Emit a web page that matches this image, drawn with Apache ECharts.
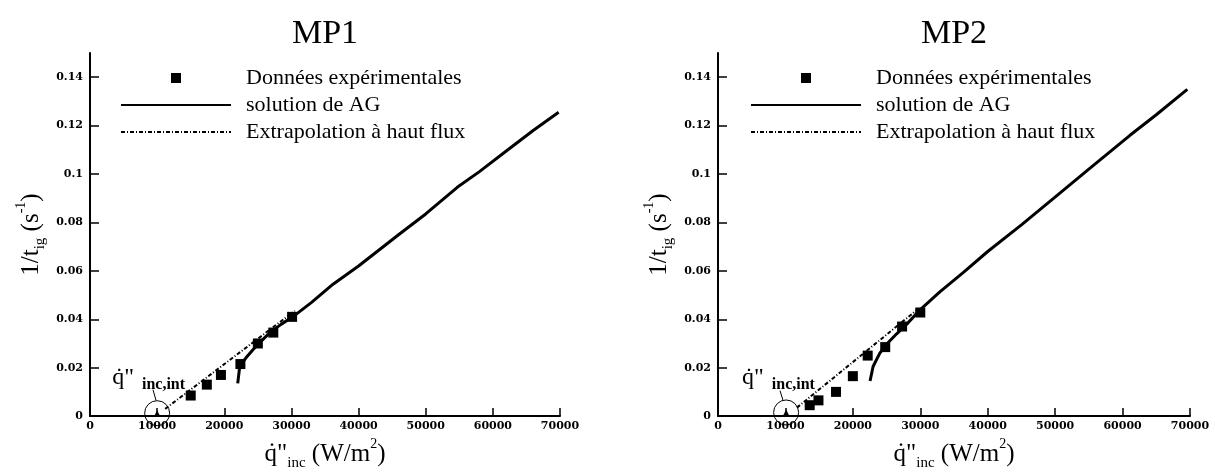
<!DOCTYPE html>
<html>
<head>
<meta charset="utf-8">
<script src="https://cdn.jsdelivr.net/npm/echarts@6/dist/echarts.min.js"></script>
<style>
html,body{margin:0;padding:0;background:#fff;}
#chart{width:1215px;height:476px;}
</style>
</head>
<body>
<div id="chart"></div>
<script>
// ---- data ----
const titles = ['MP1', 'MP2'];
const legendNames = ['Données expérimentales', 'solution de AG', 'Extrapolation à haut flux'];
const xTicks = [0, 10000, 20000, 30000, 40000, 50000, 60000, 70000];
const yTicks = [0, 0.02, 0.04, 0.06, 0.08, 0.1, 0.12, 0.14];

// MP1
const mp1ExpX = [15000, 17400, 19500, 22400, 25000, 27300, 30100];
const mp1ExpY = [0.0085, 0.013, 0.017, 0.0215, 0.030, 0.0345, 0.041];
const mp1AgX = [22000, 22300, 23200, 24300, 25500, 26800, 28500, 30200, 33000, 36200, 40000, 43000, 46000, 50000, 54700, 58000, 62000, 66000, 69800];
const mp1AgY = [0.0135, 0.0205, 0.024, 0.0275, 0.031, 0.0345, 0.038, 0.041, 0.047, 0.0545, 0.062, 0.0685, 0.075, 0.0835, 0.0945, 0.101, 0.1095, 0.118, 0.1255];
const mp1ExtX = [11200, 30500];
const mp1ExtY = [0.003, 0.0435];
const mp1Int = [10000, 0.0012];

// MP2
const mp2ExpX = [13600, 14900, 17500, 20000, 22200, 24800, 27300, 30000];
const mp2ExpY = [0.0045, 0.0065, 0.010, 0.0165, 0.025, 0.0285, 0.037, 0.0428];
const mp2AgX = [22550, 23000, 24000, 25100, 26500, 28000, 30000, 32900, 36400, 40000, 45000, 50300, 55000, 61100, 65000, 69600];
const mp2AgY = [0.0145, 0.0205, 0.026, 0.030, 0.034, 0.038, 0.044, 0.0513, 0.0594, 0.068, 0.079, 0.0912, 0.102, 0.116, 0.1245, 0.135];
const mp2ExtX = [11700, 30000];
const mp2ExtY = [0.0035, 0.045];
const mp2Int = [10100, 0.0015];

const zip = (a, b) => a.map((v, i) => [v, b[i]]);

const chartData = [
  {exp: zip(mp1ExpX, mp1ExpY), ag: zip(mp1AgX, mp1AgY), ext: zip(mp1ExtX, mp1ExtY), int: mp1Int,
   lbl: [3300, 0.0158], lead: [[9380, 0.0109], [9830, 0.0065]]},
  {exp: zip(mp2ExpX, mp2ExpY), ag: zip(mp2AgX, mp2AgY), ext: zip(mp2ExtX, mp2ExtY), int: mp2Int,
   lbl: [3560, 0.0158], lead: [[9200, 0.0105], [9640, 0.0065]]}
];

const grids = [
  {left: 90, top: 53, width: 470, height: 371},
  {left: 718, top: 53, width: 472, height: 371}
];

const serif = 'Liberation Serif';
const tickFont = {fontFamily: 'DejaVu Serif', fontWeight: 'bold', fontSize: 11, color: '#000'};

const nameRich = {
  b: {fontFamily: serif, fontSize: 25, lineHeight: 34, verticalAlign: 'middle', color: '#000'},
  s: {fontFamily: serif, fontSize: 15, lineHeight: 34, verticalAlign: 'bottom', color: '#000'},
  p: {fontFamily: serif, fontSize: 14, lineHeight: 34, verticalAlign: 'top', color: '#000'}
};

const squareIcon = 'path://M0,0L10,0L10,10L0,10Z';
const hiddenSym = {color: 'rgba(0,0,0,0)', borderWidth: 0, borderColor: 'rgba(0,0,0,0)'};

const xAxes = [], yAxes = [], series = [], legends = [], titleArr = [];

[0, 1].forEach(i => {
  const g = grids[i];
  xAxes.push({
    type: 'value', gridIndex: i, min: 0, max: 70000, interval: 10000,
    splitLine: {show: false},
    axisLine: {lineStyle: {color: '#000', width: 2}},
    axisTick: {inside: true, length: 8, lineStyle: {color: '#000', width: 1.5}},
    axisLabel: {margin: 5, formatter: v => String(v), ...tickFont},
    name: '{b|q\u0307"}{s|inc}{b| (W/m}{p|2}{b|)}',
    nameLocation: 'middle', nameGap: 11,
    nameTextStyle: {rich: nameRich}
  });
  yAxes.push({
    type: 'value', gridIndex: i, min: 0, max: 0.15,
    splitLine: {show: false},
    axisLine: {lineStyle: {color: '#000', width: 2}},
    axisTick: {inside: true, length: 9, customValues: yTicks, lineStyle: {color: '#000', width: 1.5}},
    axisLabel: {margin: 7, customValues: yTicks, formatter: v => String(+v.toFixed(2)), ...tickFont},
    name: '{b|1/t}{s|ig}{b| (s}{p|-1}{b|)}',
    nameLocation: 'middle', nameRotate: 90, nameGap: 42,
    nameTextStyle: {rich: nameRich}
  });
  titleArr.push({
    text: titles[i], left: g.left + g.width / 2, top: 17, padding: 0, textAlign: 'center',
    textStyle: {fontFamily: serif, fontSize: 34, fontWeight: 'normal', color: '#000'}
  });
  legends.push({
    data: [
      {name: legendNames[0], icon: squareIcon, itemStyle: {color: '#000', opacity: 1}},
      {name: legendNames[1], itemStyle: hiddenSym},
      {name: legendNames[2], itemStyle: hiddenSym}
    ],
    orient: 'vertical', left: g.left + 30 + (i === 1 ? 2 : 0), top: 64.5, padding: 0,
    itemWidth: 110, itemHeight: 10, itemGap: 0,
    symbolKeepAspect: true,
    selectedMode: false,
    textStyle: {fontFamily: serif, fontSize: 22, lineHeight: 27, color: '#000', padding: [0, 0, 0, 10]}
  });
  const d = chartData[i];
  series.push(
    {name: legendNames[0], type: 'scatter', xAxisIndex: i, yAxisIndex: i, data: d.exp,
     symbol: 'rect', symbolSize: 10, itemStyle: {color: '#000', opacity: 1}, z: 4, silent: true},
    {name: legendNames[1], type: 'line', xAxisIndex: i, yAxisIndex: i, data: d.ag,
     symbol: 'none', lineStyle: {color: '#000', width: 3}, itemStyle: {color: '#000'}, z: 3, silent: true},
    {name: legendNames[2], type: 'line', xAxisIndex: i, yAxisIndex: i, data: d.ext,
     symbol: 'none', lineStyle: {color: '#000', width: 2, type: [4, 2, 1, 2]}, itemStyle: {color: '#000'}, z: 2, silent: true},
    {name: 'circle' + i, type: 'scatter', xAxisIndex: i, yAxisIndex: i, data: [d.int],
     symbol: 'circle', symbolSize: 25, itemStyle: {color: 'rgba(0,0,0,0)', borderColor: '#000', borderWidth: 1, opacity: 1}, z: 5, silent: true},
    {name: 'tri' + i, type: 'scatter', xAxisIndex: i, yAxisIndex: i, data: [d.int],
     symbol: 'triangle', symbolSize: 6, itemStyle: {color: '#000', opacity: 1}, z: 5, silent: true},
    {name: 'lead' + i, type: 'line', xAxisIndex: i, yAxisIndex: i, data: d.lead,
     symbol: 'none', lineStyle: {color: '#000', width: 1}, z: 5, silent: true},
    {name: 'lbl' + i, type: 'scatter', xAxisIndex: i, yAxisIndex: i, data: [d.lbl],
     symbolSize: 0, itemStyle: {color: 'rgba(0,0,0,0)', opacity: 1}, silent: true, z: 6,
     label: {show: true, position: 'right', distance: 0, opacity: 1, color: '#000',
       formatter: '{b|q\u0307"}{s|inc,int}',
       rich: {
         b: {fontFamily: serif, fontSize: 24, lineHeight: 30, verticalAlign: 'middle', color: '#000', padding: [0, 8, 0, 0]},
         s: {fontFamily: serif, fontSize: 16, fontWeight: 'bold', lineHeight: 30, verticalAlign: 'bottom', color: '#000'}
       }}}
  );
});

const chart = echarts.init(document.getElementById('chart'), null, {renderer: 'canvas'});
chart.setOption({
  animation: false,
  backgroundColor: '#fff',
  title: titleArr,
  legend: legends,
  grid: grids,
  xAxis: xAxes,
  yAxis: yAxes,
  series: series
});
</script>
</body>
</html>
